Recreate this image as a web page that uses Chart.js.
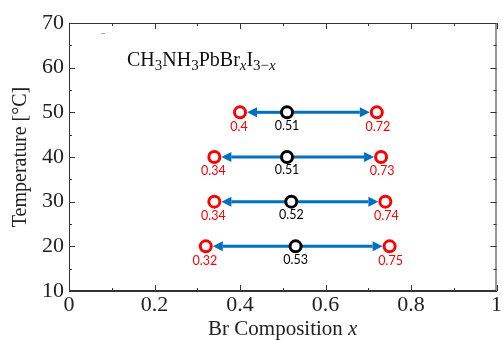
<!DOCTYPE html>
<html>
<head>
<meta charset="utf-8">
<script src="https://cdn.jsdelivr.net/npm/chart.js@4/dist/chart.umd.min.js"></script>
<style>
  html, body { margin: 0; padding: 0; background: #fff; }
  #wrap { width: 503px; height: 340px; }
</style>
</head>
<body>
<div id="wrap"><canvas id="chart" width="503" height="340"></canvas></div>
<script>
// temperatures (°C) of each row
const temps = [50, 40, 30, 20];
// Br composition
const lowX = [0.4, 0.34, 0.34, 0.32];
const midX = [0.51, 0.51, 0.52, 0.53];
const highX = [0.72, 0.73, 0.74, 0.75];
const lowLabels = ["0.4", "0.34", "0.34", "0.32"];
const midLabels = ["0.51", "0.51", "0.52", "0.53"];
const highLabels = ["0.72", "0.73", "0.74", "0.75"];

const redPts = [];
const blackPts = [];
temps.forEach((t, i) => {
  redPts.push({ x: lowX[i], y: t }, { x: highX[i], y: t });
  blackPts.push({ x: midX[i], y: t });
});

const SERIF = "'Liberation Serif', 'Times New Roman', serif";
const SANS = "Lato, 'Open Sans', sans-serif";

// arrows from the middle point out to both ends
const arrowPlugin = {
  id: "arrows",
  beforeDatasetsDraw(chart) {
    const { ctx, scales: { x, y } } = chart;
    ctx.save();
    ctx.strokeStyle = "#0070C0";
    ctx.fillStyle = "#0070C0";
    ctx.lineWidth = 3;
    temps.forEach((t, i) => {
      const py = y.getPixelForValue(t);
      const mx = x.getPixelForValue(midX[i]);
      [lowX[i], highX[i]].forEach((ex) => {
        const px = x.getPixelForValue(ex);
        const dir = px < mx ? -1 : 1;
        const tip = px - dir * 7;
        const base = tip - dir * 10;
        ctx.beginPath();
        ctx.moveTo(mx, py);
        ctx.lineTo(base, py);
        ctx.stroke();
        ctx.beginPath();
        ctx.moveTo(tip, py);
        ctx.lineTo(base, py - 5);
        ctx.lineTo(base, py + 5);
        ctx.closePath();
        ctx.fill();
      });
    });
    ctx.restore();
  },
  afterDraw(chart) {
    const { ctx, chartArea: a, scales: { x, y } } = chart;
    ctx.save();
    // frame top/right
    ctx.strokeStyle = "#333";
    ctx.lineWidth = 1;
    ctx.strokeRect(a.left + 0.5, a.top + 0.5, a.right - a.left - 1, a.bottom - a.top - 1);
    // inward ticks
    ctx.beginPath();
    for (let v = 0; v <= 10; v++) {
      const px = Math.round(x.getPixelForValue(v / 10)) + 0.5;
      const len = v % 2 === 0 ? 6 : 3;
      ctx.moveTo(px, a.bottom); ctx.lineTo(px, a.bottom - len);
      ctx.moveTo(px, a.top); ctx.lineTo(px, a.top + len);
    }
    for (let v = 10; v <= 70; v += 5) {
      const py = Math.round(y.getPixelForValue(v)) + 0.5;
      const len = v % 10 === 0 ? 6 : 3;
      ctx.moveTo(a.left, py); ctx.lineTo(a.left + len, py);
      ctx.moveTo(a.right, py); ctx.lineTo(a.right - len, py);
    }
    ctx.stroke();

    // small grey mark near the top left
    ctx.fillStyle = "#aaa";
    ctx.fillRect(a.left + 32, a.top + 10, 4, 1);

    // value labels
    ctx.font = "12.5px " + SANS;
    ctx.textAlign = "center";
    ctx.textBaseline = "top";
    temps.forEach((t, i) => {
      const py = y.getPixelForValue(t);
      ctx.fillStyle = "#ff0000";
      ctx.fillText(lowLabels[i], x.getPixelForValue(lowX[i]) - 1, py + 8);
      ctx.fillText(highLabels[i], x.getPixelForValue(highX[i]) + 1, py + 8);
      ctx.fillStyle = "#000";
      ctx.fillText(midLabels[i], x.getPixelForValue(midX[i]), py + 7);
    });

    // formula text
    ctx.fillStyle = "#111";
    ctx.textAlign = "left";
    ctx.textBaseline = "alphabetic";
    let cx = a.left + 58;
    const by = a.top + 43;
    const parts = [
      ["CH", 0, ""], ["3", 1, ""], ["NH", 0, ""], ["3", 1, ""], ["PbBr", 0, ""],
      ["x", 1, "italic "], ["I", 0, ""], ["3\u2212", 1, ""], ["x", 1, "italic "]
    ];
    parts.forEach(([s, sub, st]) => {
      ctx.font = st + (sub ? "15px " : "20px ") + SERIF;
      ctx.fillText(s, cx, by + (sub ? 4 : 0));
      cx += ctx.measureText(s).width;
    });

    // x axis title with italic x
    ctx.font = "21px " + SERIF;
    const t1 = "Br Composition ";
    const w1 = ctx.measureText(t1).width;
    ctx.font = "italic 21px " + SERIF;
    const w2 = ctx.measureText("x").width;
    let sx = (a.left + a.right) / 2 - (w1 + w2) / 2;
    ctx.font = "21px " + SERIF;
    ctx.fillStyle = "#222";
    ctx.fillText(t1, sx, 335);
    ctx.font = "italic 21px " + SERIF;
    ctx.fillText("x", sx + w1, 335);
    ctx.restore();
  }
};

new Chart(document.getElementById("chart"), {
  type: "scatter",
  data: {
    datasets: [
      {
        data: redPts,
        pointRadius: 5.5,
        pointBorderWidth: 3,
        borderColor: "#ff0000",
        backgroundColor: "#ffffff",
      },
      {
        data: blackPts,
        pointRadius: 5.5,
        pointBorderWidth: 3,
        borderColor: "#000000",
        backgroundColor: "#ffffff",
      },
    ],
  },
  options: {
    responsive: false,
    animation: false,
    events: [],
    layout: { autoPadding: false, padding: { top: 23, right: 5, left: 0, bottom: 0 } },
    plugins: { legend: { display: false }, tooltip: { enabled: false } },
    scales: {
      x: {
        min: 0,
        max: 1,
        afterFit: (s) => { s.height = 49; },
        grid: { drawOnChartArea: false, drawTicks: false },
        border: { color: "#333" },
        ticks: {
          stepSize: 0.2,
          padding: 1,
          color: "#222",
          font: { family: SERIF, size: 22 },
          callback: (v) => String(Number(v.toFixed(1))),
        },
      },
      y: {
        min: 10,
        max: 70,
        afterFit: (s) => { s.width = 69; },
        grid: { drawOnChartArea: false, drawTicks: false },
        border: { color: "#333" },
        title: {
          display: true,
          text: "Temperature [°C]",
          color: "#222",
          font: { family: SERIF, size: 20 },
          padding: { top: 9, bottom: 0 },
        },
        ticks: {
          stepSize: 10,
          padding: 5,
          color: "#222",
          font: { family: SERIF, size: 22 },
        },
      },
    },
  },
  plugins: [arrowPlugin],
});
</script>
</body>
</html>
